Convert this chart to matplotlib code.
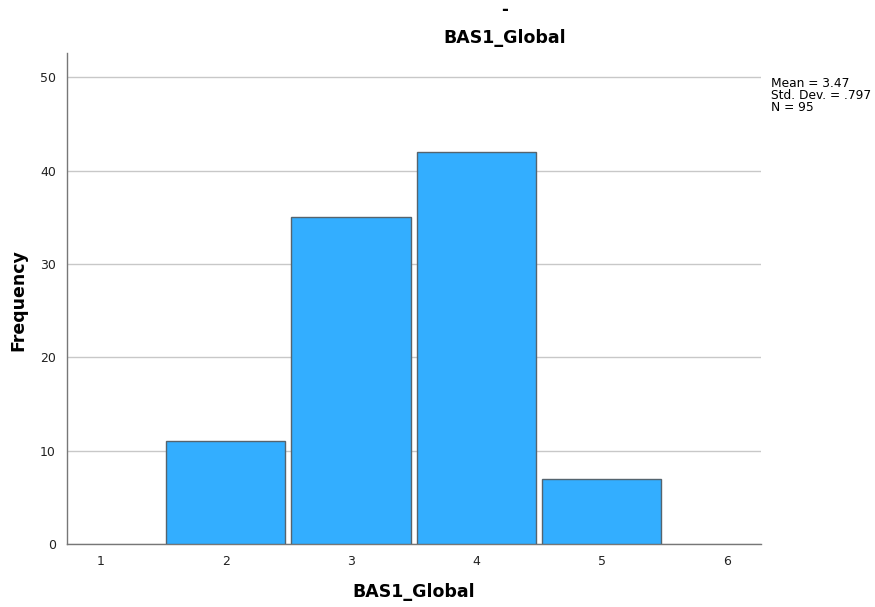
import matplotlib
matplotlib.use("Agg")
import matplotlib.pyplot as plt

categories = [2, 3, 4, 5]
frequencies = [11, 35, 42, 7]
xticks = [1, 2, 3, 4, 5, 6]
yticks = [0, 10, 20, 30, 40, 50]
stats_text = "Mean = 3.47\nStd. Dev. = .797\nN = 95"

fig = plt.figure(figsize=(8.75, 6.07), dpi=100)
ax = fig.add_axes([67/875, 1-544/607, (761-67)/875, (544-53)/607])

ax.bar(categories, frequencies, width=0.95, color="#33AEFF", edgecolor="#55646e",
       linewidth=1.0, zorder=3)
ax.set_xlim(0.735, 6.27)
ax.set_ylim(0, 52.6)
ax.set_xticks(xticks)
ax.set_yticks(yticks)
ax.tick_params(length=0, labelsize=9, colors="#222222", pad=8)
ax.yaxis.grid(True, color="#c8c8c8", linewidth=1.0, zorder=0)
ax.set_axisbelow(True)
for s in ["top", "right"]:
    ax.spines[s].set_visible(False)
for s in ["left", "bottom"]:
    ax.spines[s].set_color("#777777")
    ax.spines[s].set_linewidth(1.0)

fig.text(414/875, 1-592/607, "BAS1_Global", ha="center", va="center",
         fontsize=12.5, fontweight="bold")
fig.text(18/875, 1-300/607, "Frequency", ha="center", va="center",
         fontsize=12.5, fontweight="bold", rotation=90)
fig.text(505/875, 1-38/607, "BAS1_Global", ha="center", va="center",
         fontsize=12.5, fontweight="bold")
fig.text(505/875, 1-10/607, "-", ha="center", va="center",
         fontsize=12, fontweight="bold")
fig.text(771/875, 1-77/607, stats_text, ha="left", va="top", fontsize=8.8,
         linespacing=0.92)

fig.savefig("out.png", dpi=100, facecolor="white")
